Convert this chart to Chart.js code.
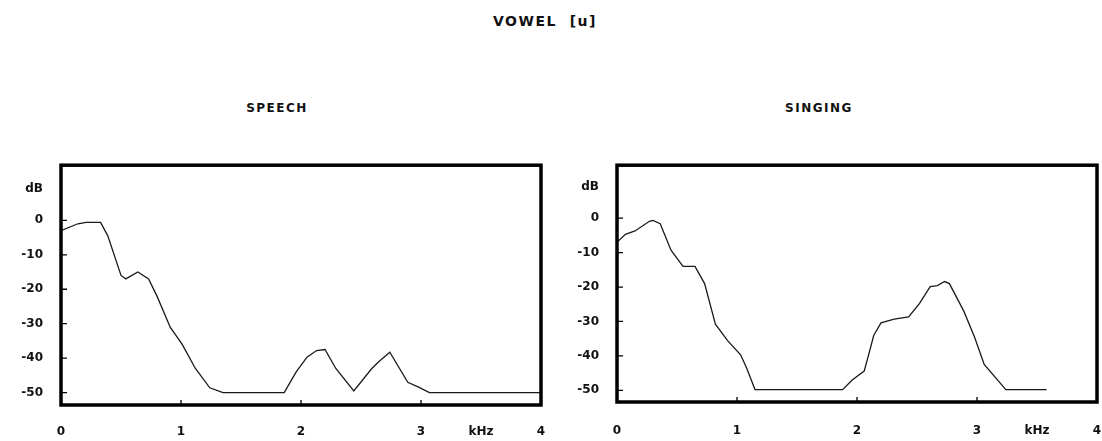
<!DOCTYPE html>
<html>
<head>
<meta charset="utf-8">
<script src="https://cdn.jsdelivr.net/npm/chart.js@4.4.0/dist/chart.umd.min.js"></script>
<style>
  html, body { margin: 0; padding: 0; background: #fff; }
  body { width: 1102px; height: 441px; position: relative; overflow: hidden; font-family: "DejaVu Sans", sans-serif; }
  .t { position: absolute; font-weight: bold; color: #111; white-space: nowrap; transform: translate(-50%, -50%); }
  #mainTitle { left: 545px; top: 21px; font-size: 14px; letter-spacing: 1.5px; }
  #t1 { left: 277px; top: 108px; font-size: 12px; letter-spacing: 1.5px; }
  #t2 { left: 819px; top: 108px; font-size: 12px; letter-spacing: 1.5px; }
  canvas { position: absolute; }
  #c1 { left: 0; top: 140px; }
  #c2 { left: 560px; top: 140px; }
</style>
</head>
<body>
<div class="t" id="mainTitle">VOWEL&nbsp;&nbsp;[u]</div>
<div class="t" id="t1">SPEECH</div>
<div class="t" id="t2">SINGING</div>
<canvas id="c1" width="560" height="301" style="width:560px;height:301px"></canvas>
<canvas id="c2" width="542" height="301" style="width:542px;height:301px"></canvas>
<script>
// ---- data (kHz, dB) ----
const speechFreq = [0, 0.14, 0.21, 0.33, 0.39, 0.50, 0.54, 0.64, 0.73, 0.80, 0.91, 1.01, 1.12, 1.24, 1.35, 1.86, 1.96, 2.05, 2.13, 2.20, 2.29, 2.44, 2.59, 2.65, 2.74, 2.89, 2.98, 3.07, 4.0];
const speechDb   = [-3, -1, -0.6, -0.6, -4.5, -16, -17, -15, -17, -22, -31, -36, -43, -48.6, -50, -50, -44, -39.7, -37.8, -37.5, -43, -49.5, -43, -41, -38.3, -47, -48.4, -50, -50];

const singingFreq = [0, 0.07, 0.15, 0.27, 0.30, 0.36, 0.45, 0.55, 0.65, 0.73, 0.82, 0.92, 1.03, 1.08, 1.15, 1.88, 1.96, 2.06, 2.09, 2.14, 2.20, 2.31, 2.43, 2.52, 2.61, 2.67, 2.73, 2.77, 2.89, 2.98, 3.06, 3.24, 3.58];
const singingDb   = [-7, -4.7, -3.7, -0.9, -0.65, -1.6, -9.3, -14, -14, -19, -30.8, -35.5, -39.7, -43.5, -49.8, -49.8, -47, -44.4, -40.6, -34, -30.4, -29.3, -28.7, -24.8, -19.9, -19.6, -18.4, -19, -27, -34.6, -42.5, -49.8, -49.8];

const yTickValues = [-50, -40, -30, -20, -10, 0];
const yUnitPos = 9;            // where the "dB" unit label sits
const yUnitLabel = 'dB';
const xTickValues = [0, 1, 2, 3, 4];
const xUnitPos = 3.5;          // where the "kHz" unit label sits
const xUnitLabel = 'kHz';

const tickFont = { family: '"DejaVu Sans", sans-serif', size: 12, weight: 'bold' };

const framePlugin = {
  id: 'frame',
  afterDraw(chart) {
    const { ctx, chartArea: a, scales } = chart;
    ctx.save();
    ctx.strokeStyle = '#000';
    ctx.lineWidth = 1.3;
    ctx.beginPath();
    yTickValues.forEach(v => {
      const y = scales.y.getPixelForValue(v);
      ctx.moveTo(a.left, y); ctx.lineTo(a.left + 6, y);
    });
    xTickValues.forEach(v => {
      const x = scales.x.getPixelForValue(v);
      ctx.moveTo(x, a.bottom); ctx.lineTo(x, a.bottom - 5);
    });
    ctx.stroke();
    ctx.lineWidth = 3.5;
    ctx.strokeRect(a.left, a.top, a.right - a.left, a.bottom - a.top);
    ctx.restore();
  }
};

function makeChart(id, freq, db, opts) {
  const pts = freq.map((f, i) => ({ x: f, y: db[i] }));
  return new Chart(document.getElementById(id), {
    type: 'line',
    data: { datasets: [{ data: pts, borderColor: '#1a1a1a', borderWidth: 1.3, pointRadius: 0, tension: 0, fill: false }] },
    options: {
      responsive: false, animation: false,
      layout: { padding: { left: 0, right: opts.padRight, top: opts.padTop, bottom: 0 } },
      plugins: { legend: { display: false }, tooltip: { enabled: false } },
      scales: {
        x: {
          type: 'linear', min: 0, max: 4,
          afterBuildTicks: s => { s.ticks = xTickValues.concat([xUnitPos]).map(v => ({ value: v })); },
          afterFit: s => { s.height = opts.xHeight; },
          grid: { display: false, drawTicks: false },
          border: { display: false },
          ticks: { color: '#111', font: tickFont, padding: opts.xPad, maxRotation: 0, autoSkip: false,
                   callback: v => v === xUnitPos ? xUnitLabel : String(v) }
        },
        y: {
          type: 'linear', min: opts.yMin, max: opts.yMax,
          afterBuildTicks: s => { s.ticks = yTickValues.concat([yUnitPos]).map(v => ({ value: v })); },
          afterFit: s => { s.width = opts.yWidth; },
          grid: { display: false, drawTicks: false },
          border: { display: false },
          ticks: { color: '#111', font: tickFont, padding: opts.yPad, autoSkip: false,
                   callback: v => v === yUnitPos ? yUnitLabel : String(v) }
        }
      }
    },
    plugins: [framePlugin]
  });
}

makeChart('c1', speechFreq, speechDb, { padRight: 19, padTop: 17, xHeight: 36, yWidth: 61, yMin: -53.6, yMax: 16, xPad: 20, yPad: 18 });
makeChart('c2', singingFreq, singingDb, { padRight: 5, padTop: 16, xHeight: 39, yWidth: 57, yMin: -53.4, yMax: 15.4, xPad: 22, yPad: 18 });
</script>
</body>
</html>
